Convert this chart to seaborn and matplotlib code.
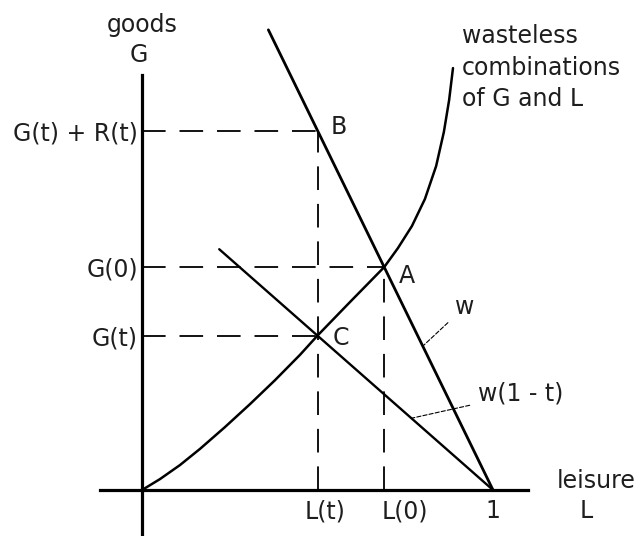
import matplotlib.pyplot as plt
import seaborn as sns

# values (leisure L runs 0..1, goods G on the same scale)
L_t = 0.50    # L(t)
L_0 = 0.69    # L(0)
G_t = 0.44    # G(t)
G_0 = 0.635   # G(0)
G_R = 1.024   # G(t) + R(t)

# wasteless combinations of G and L
waste_L = [0.0, 0.051, 0.108, 0.165, 0.236, 0.308, 0.379, 0.450, 0.50, 0.593, 0.69,
           0.729, 0.769, 0.806, 0.838, 0.860, 0.875, 0.886]
waste_G = [0.0, 0.031, 0.071, 0.117, 0.179, 0.245, 0.313, 0.385, 0.44, 0.536, 0.635,
           0.689, 0.752, 0.829, 0.923, 1.020, 1.111, 1.202]

# budget lines, wage w and after-tax wage w(1 - t)
w_L = [0.36, 1.0]
w_G = [1.311, 0.0]
wt_L = [0.22, 1.0]
wt_G = [0.686, 0.0]

ytick_vals = [G_R, G_0, G_t]
ytick_labels = ["G(t) + R(t)", "G(0)", "G(t)"]

sns.set_style("white")
plt.rcParams["font.family"] = ["DejaVu Sans"]
plt.rcParams["lines.scale_dashes"] = False

fig = plt.figure(figsize=(6.4, 5.36), dpi=100)
ax = fig.add_axes([0, 0, 1, 1])
ax.set_xlim(-0.4046, 1.4188)
ax.set_ylim(-0.131, 1.396)

txt = dict(fontsize=17, color="#1e1e1e")
dash = dict(color="black", lw=1.3, dashes=(17, 10))

# dashed guide lines
ax.plot([0, L_t], [G_R, G_R], **dash)
ax.plot([0, L_0], [G_0, G_0], **dash)
ax.plot([0, L_t], [G_t, G_t], **dash)
ax.plot([L_t, L_t], [0, G_R], **dash)
ax.plot([L_0, L_0], [0, G_0], **dash)

# curves
sns.lineplot(x=w_L, y=w_G, sort=False, estimator=None, color="black", lw=2.0, ax=ax)
sns.lineplot(x=wt_L, y=wt_G, sort=False, estimator=None, color="black", lw=1.7, ax=ax)
sns.lineplot(x=waste_L, y=waste_G, sort=False, estimator=None, color="black", lw=1.8, ax=ax)

# axes through the origin
for side in ["top", "right"]:
    ax.spines[side].set_visible(False)
ax.spines["left"].set_position(("data", 0))
ax.spines["bottom"].set_position(("data", 0))
ax.spines["left"].set_bounds(-0.131, 1.182)
ax.spines["bottom"].set_bounds(-0.12, 1.10)
for side in ["left", "bottom"]:
    ax.spines[side].set_linewidth(2.3)
    ax.spines[side].set_color("black")

ax.set_yticks(ytick_vals, ytick_labels, **txt)
ax.set_xticks([])
ax.tick_params(axis="y", length=0, pad=3)

# labels under the leisure axis
ax.annotate("L(t)", (L_t, 0), xytext=(8, -21), textcoords="offset pixels", ha="center", va="center", **txt)
ax.annotate("L(0)", (L_0, 0), xytext=(21, -21), textcoords="offset pixels", ha="center", va="center", **txt)
ax.annotate("1", (1, 0), xytext=(0, -21), textcoords="offset pixels", ha="center", va="center", **txt)

# axis titles
ax.text(0, 1.324, "goods", ha="center", va="center", **txt)
ax.text(-0.01, 1.239, "G", ha="center", va="center", **txt)
ax.text(1.293, 0.026, "leisure", ha="center", va="center", **txt)
ax.text(1.265, -0.06, "L", ha="center", va="center", **txt)
ax.text(0.912, 1.327, "wasteless\ncombinations\nof G and L", ha="left", va="top", linespacing=1.4, **txt)

# point labels
ax.annotate("A", (L_0, G_0), xytext=(23, -9), textcoords="offset pixels", ha="center", va="center", **txt)
ax.annotate("B", (L_t, G_R), xytext=(21, 4), textcoords="offset pixels", ha="center", va="center", **txt)
ax.annotate("C", (L_t, G_t), xytext=(23, -2), textcoords="offset pixels", ha="center", va="center", **txt)

# pointer labels for the budget lines
pointer = dict(arrowstyle="-", color="black", lw=0.8, linestyle=(0, (3, 1.5)), shrinkA=4, shrinkB=0)
ax.annotate("w", (0.80, 0.41), xytext=(0.920, 0.522), ha="center", va="center", arrowprops=pointer, **txt)
ax.annotate("w(1 - t)", (0.77, 0.205), xytext=(1.080, 0.274), ha="center", va="center", arrowprops=pointer, **txt)

fig.savefig("out.png", dpi=100)
